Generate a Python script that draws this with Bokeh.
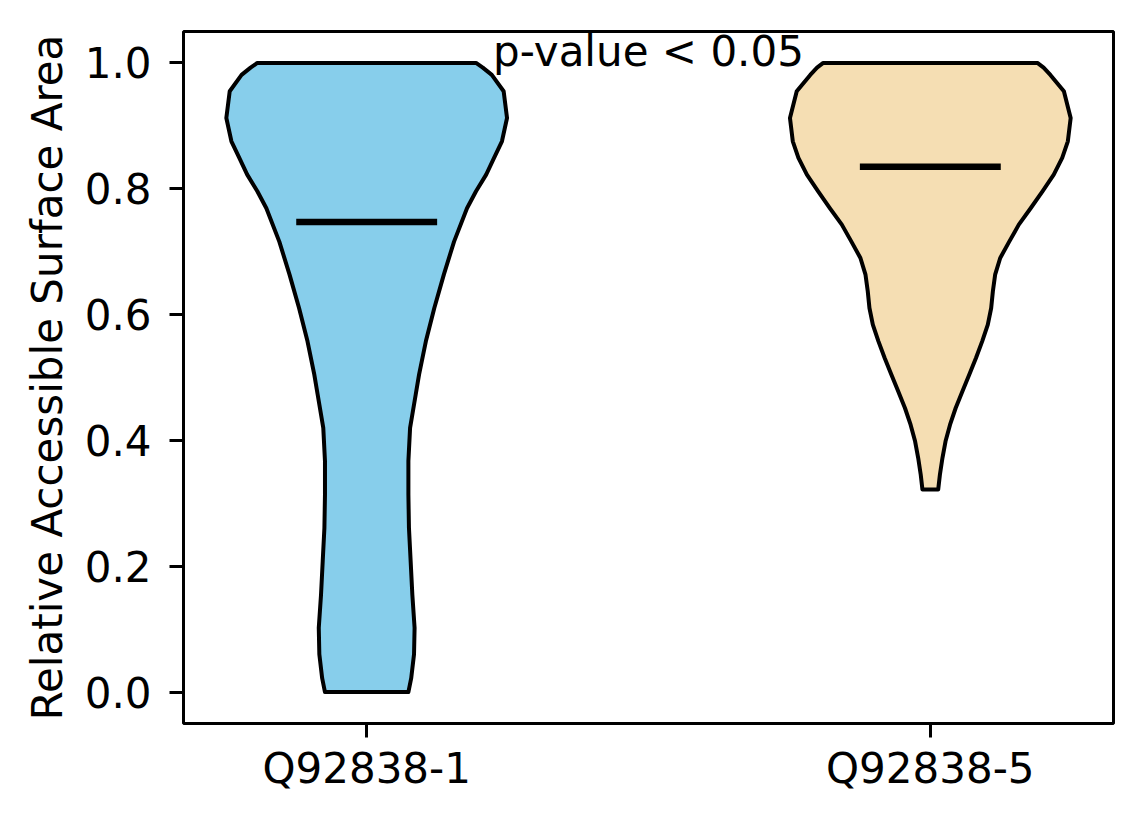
from bokeh.plotting import figure
from bokeh.models import Range1d, FixedTicker, Label
from bokeh.embed import file_html
from bokeh.resources import INLINE

# group names and positions
groups = ["Q92838-1", "Q92838-5"]
positions = [1, 2]
colors = ["#87CEEB", "#F5DEB3"]
means = [0.747, 0.835]

# violin outlines: y value and half width (data units)
left_y = [1.000, 0.9925, 0.981, 0.955, 0.9125, 0.8755, 0.849, 0.8225, 0.796, 0.769,
          0.716, 0.664, 0.6105, 0.5575, 0.505, 0.473, 0.420, 0.367, 0.314,
          0.261, 0.208, 0.155, 0.102, 0.060, 0.022, 0.000]
left_hw = [0.194, 0.206, 0.222, 0.243, 0.249, 0.240, 0.226, 0.212, 0.194, 0.178,
           0.155, 0.137, 0.120, 0.105, 0.093, 0.087, 0.077, 0.074, 0.074,
           0.075, 0.078, 0.081, 0.085, 0.084, 0.079, 0.074]
right_y = [1.000, 0.9925, 0.981, 0.955, 0.9125, 0.8755, 0.849, 0.8225, 0.796, 0.769,
           0.743, 0.716, 0.690, 0.6635, 0.637, 0.6105, 0.584, 0.5575, 0.531,
           0.5045, 0.478, 0.4515, 0.425, 0.3985, 0.372, 0.3455, 0.322]
right_hw = [0.190, 0.201, 0.213, 0.237, 0.249, 0.244, 0.234, 0.219, 0.199, 0.178,
            0.157, 0.140, 0.124, 0.115, 0.111, 0.108, 0.102, 0.092, 0.081,
            0.069, 0.057, 0.045, 0.035, 0.027, 0.0215, 0.017, 0.014]

y_ticks = [0.0, 0.2, 0.4, 0.6, 0.8, 1.0]
annotation = "p-value < 0.05"
FONT = "DejaVu Sans"
FS = "42px"

p = figure(width=1128, height=808, output_backend="svg", toolbar_location=None,
           x_range=Range1d(0.675, 2.325), y_range=Range1d(-0.05, 1.05),
           min_border_left=183, min_border_right=15, min_border_top=31, min_border_bottom=85)
p.grid.visible = False
p.outline_line_color = "black"
p.outline_line_width = 3

# violins
profiles = [(left_y, left_hw), (right_y, right_hw)]
for pos, col, (ys, hw) in zip(positions, colors, profiles):
    xs = [pos - w for w in hw] + [pos + w for w in reversed(hw)]
    yy = list(ys) + list(reversed(ys))
    p.patch(xs, yy, fill_color=col, line_color="black", line_width=4, line_join="round")

# mean lines
p.segment(x0=[x - 0.125 for x in positions], x1=[x + 0.125 for x in positions],
          y0=means, y1=means, line_color="black", line_width=6.5)

p.add_layout(Label(x=1.5, y=0.992, y_offset=16, text=annotation, text_align="center",
                   text_baseline="alphabetic", text_font=FONT, text_font_size=FS,
                   text_color="black"))

# axes
p.xaxis.ticker = FixedTicker(ticks=positions)
p.xaxis.major_label_overrides = {pos: g for pos, g in zip(positions, groups)}
p.yaxis.ticker = FixedTicker(ticks=y_ticks)
p.yaxis.major_label_overrides = {t: f"{t:.1f}" for t in y_ticks}
p.yaxis.axis_label = "Relative Accessible Surface Area"

for ax in (p.xaxis[0], p.yaxis[0]):
    ax.axis_line_color = None
    ax.major_tick_line_color = "black"
    ax.major_tick_line_width = 3
    ax.major_tick_out = 14
    ax.major_tick_in = 0
    ax.minor_tick_line_color = None
    ax.major_label_text_font = FONT
    ax.major_label_text_font_size = FS
    ax.major_label_text_color = "black"
    ax.axis_label_text_font = FONT
    ax.axis_label_text_font_size = FS
    ax.axis_label_text_font_style = "normal"
    ax.axis_label_text_color = "black"
p.xaxis.major_label_standoff = 6
p.yaxis.major_label_standoff = 18
p.yaxis.axis_label_standoff = 10

open("out.html", "w").write(file_html(p, INLINE))
